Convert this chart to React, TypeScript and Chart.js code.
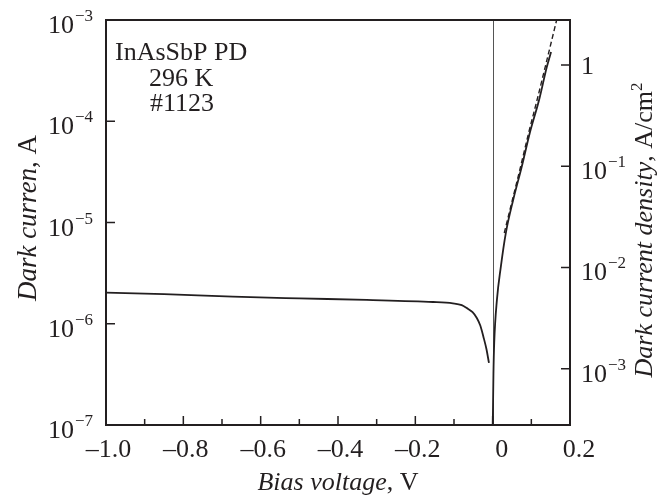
import { useEffect, useRef } from "react";
import { Chart, registerables } from "chart.js";

Chart.register(...registerables);

// ---- data ----
const reverseV = [-1.0, -0.85, -0.672, -0.5, -0.326, -0.154, -0.103, -0.08, -0.067, -0.052, -0.041, -0.032, -0.024, -0.016, -0.0096];
const reverseI = [2.03e-6, 1.96e-6, 1.85e-6, 1.78e-6, 1.72e-6, 1.64e-6, 1.59e-6, 1.53e-6, 1.43e-6, 1.3e-6, 1.14e-6, 9.6e-7, 7.45e-7, 5.6e-7, 4.1e-7];

const forwardV = [0.0003, 0.002, 0.004, 0.011, 0.021, 0.034, 0.053, 0.075, 0.096, 0.12, 0.14, 0.151];
const forwardI = [1e-7, 3.2e-7, 6.45e-7, 1.72e-6, 3.63e-6, 7.87e-6, 1.67e-5, 3.53e-5, 7.66e-5, 1.62e-4, 3.43e-4, 4.83e-4];

const fitV = [0.03, 0.051, 0.072, 0.093, 0.1148, 0.1358, 0.1655];
const fitI = [7.87e-6, 1.67e-5, 3.53e-5, 7.66e-5, 1.62e-4, 3.43e-4, 1e-3];

const X_MIN = -1.0;
const X_MAX = 0.2;
const Y_MIN = 1e-7;
const Y_MAX = 1e-3;
const AREA_FACTOR = 2782; // (A/cm^2) per A

const xMajorTicks = [-1.0, -0.8, -0.6, -0.4, -0.2, 0, 0.2];
const xMinorTicks = [-0.9, -0.7, -0.5, -0.3, -0.1, 0.1];
const xTickLabels = ["\u20131.0", "\u20130.8", "\u20130.6", "\u20130.4", "\u20130.2", "0", "0.2"];

const yLeftTicks = [1e-3, 1e-4, 1e-5, 1e-6, 1e-7];
const yLeftExps = ["\u22123", "\u22124", "\u22125", "\u22126", "\u22127"];

const yRightTicks = [1, 0.1, 0.01, 0.001];
const yRightExps = ["", "\u22121", "\u22122", "\u22123"];

const annotationLines = ["InAsSbP PD", "296 K", "#1123"];

const FONT = "'Liberation Serif', 'DejaVu Serif', serif";
const INK = "#231f20";

const toXY = (xs: number[], ys: number[]) => xs.map((x, i) => ({ x, y: ys[i] }));

const overlay = {
  id: "overlay",
  beforeDatasetsDraw(chart: any) {
    const { ctx, chartArea, scales } = chart;
    const x0 = Math.round(scales.x.getPixelForValue(0)) + 0.5;
    ctx.save();
    ctx.strokeStyle = "#555";
    ctx.lineWidth = 1;
    ctx.beginPath();
    ctx.moveTo(x0, chartArea.top);
    ctx.lineTo(x0, chartArea.bottom);
    ctx.stroke();
    ctx.restore();
  },
  afterDatasetsDraw(chart: any) {
    const { ctx, chartArea, scales } = chart;
    const { left, right, top, bottom } = chartArea;
    ctx.save();
    // frame
    ctx.strokeStyle = INK;
    ctx.lineWidth = 2;
    ctx.strokeRect(left, top, right - left, bottom - top);

    // ticks
    ctx.lineWidth = 1.5;
    ctx.beginPath();
    xMajorTicks.forEach((v) => {
      if (v === X_MIN || v === X_MAX) return;
      const px = scales.x.getPixelForValue(v);
      ctx.moveTo(px, bottom);
      ctx.lineTo(px, bottom - 9);
    });
    xMinorTicks.forEach((v) => {
      const px = scales.x.getPixelForValue(v);
      ctx.moveTo(px, bottom);
      ctx.lineTo(px, bottom - 6);
    });
    yLeftTicks.forEach((v) => {
      if (v === Y_MIN || v === Y_MAX) return;
      const py = scales.y.getPixelForValue(v);
      ctx.moveTo(left, py);
      ctx.lineTo(left + 9, py);
    });
    yRightTicks.forEach((v) => {
      const py = scales.y2.getPixelForValue(v);
      ctx.moveTo(right, py);
      ctx.lineTo(right - 9, py);
    });
    ctx.stroke();

    ctx.fillStyle = INK;
    ctx.textBaseline = "alphabetic";

    // x tick labels (numeric part centred a little right of the tick)
    ctx.font = `26px ${FONT}`;
    ctx.textAlign = "left";
    xMajorTicks.forEach((v, i) => {
      const px = scales.x.getPixelForValue(v);
      const txt = xTickLabels[i];
      const neg = txt.startsWith("\u2013");
      const num = neg ? txt.slice(1) : txt;
      const wNum = ctx.measureText(num).width;
      const wDash = neg ? ctx.measureText("\u2013").width : 0;
      const start = px + 9 - wNum / 2 - wDash;
      ctx.fillText(txt, start, bottom + 32);
    });

    // left y tick labels
    yLeftTicks.forEach((v, i) => {
      const py = scales.y.getPixelForValue(v);
      ctx.font = `17px ${FONT}`;
      ctx.textAlign = "right";
      const e = yLeftExps[i];
      const we = ctx.measureText(e).width;
      ctx.fillText(e, left - 13, py + 1);
      ctx.font = `26px ${FONT}`;
      ctx.fillText("10", left - 13 - we - 1, py + 13);
    });

    // right y tick labels
    yRightTicks.forEach((v, i) => {
      const py = scales.y2.getPixelForValue(v);
      const e = yRightExps[i];
      ctx.textAlign = "left";
      ctx.font = `26px ${FONT}`;
      if (!e) {
        ctx.fillText("1", right + 11, py + 9);
        return;
      }
      const w10 = ctx.measureText("10").width;
      ctx.fillText("10", right + 11, py + 13);
      ctx.font = `17px ${FONT}`;
      ctx.fillText(e, right + 11 + w10 + 1, py + 1);
    });

    // annotation
    ctx.font = `26px ${FONT}`;
    ctx.textAlign = "left";
    ctx.fillText(annotationLines[0], left + 9, top + 40);
    ctx.fillText(annotationLines[1], left + 43, top + 66);
    ctx.fillText(annotationLines[2], left + 44, top + 91);

    // axis titles
    const drawParts = (parts: { t: string; f: string; dy?: number }[], cx: number, baseY: number) => {
      let total = 0;
      parts.forEach((p) => {
        ctx.font = p.f;
        total += ctx.measureText(p.t).width;
      });
      let x = cx - total / 2;
      ctx.textAlign = "left";
      parts.forEach((p) => {
        ctx.font = p.f;
        ctx.fillText(p.t, x, baseY + (p.dy || 0));
        x += ctx.measureText(p.t).width;
      });
    };

    // bottom
    drawParts(
      [
        { t: "Bias voltage", f: `italic 26px ${FONT}` },
        { t: ", V", f: `26px ${FONT}` },
      ],
      (left + right) / 2,
      490
    );

    // left
    ctx.save();
    ctx.translate(36, 218);
    ctx.rotate(-Math.PI / 2);
    drawParts(
      [
        { t: "Dark curren", f: `italic 27px ${FONT}` },
        { t: ", A", f: `27px ${FONT}` },
      ],
      0,
      0
    );
    ctx.restore();

    // right
    ctx.save();
    ctx.translate(652, 230);
    ctx.rotate(-Math.PI / 2);
    drawParts(
      [
        { t: "Dark current density", f: `italic 26px ${FONT}` },
        { t: ", A/cm", f: `26px ${FONT}` },
        { t: "2", f: `17px ${FONT}`, dy: -10 },
      ],
      0,
      0
    );
    ctx.restore();

    ctx.restore();
  },
};

export default function App() {
  const ref = useRef<HTMLCanvasElement | null>(null);

  useEffect(() => {
    document.body.style.margin = "0";
    if (!ref.current) return;
    const chart = new Chart(ref.current, {
      type: "line",
      data: {
        datasets: [
          {
            data: toXY(reverseV, reverseI),
            borderColor: INK,
            borderWidth: 1.8,
            pointRadius: 0,
            cubicInterpolationMode: "monotone",
            yAxisID: "y",
          },
          {
            data: toXY(forwardV, forwardI),
            borderColor: INK,
            borderWidth: 1.8,
            pointRadius: 0,
            cubicInterpolationMode: "monotone",
            yAxisID: "y",
          },
          {
            data: toXY(fitV, fitI),
            borderColor: INK,
            borderWidth: 1.4,
            borderDash: [5, 3],
            pointRadius: 0,
            cubicInterpolationMode: "monotone",
            yAxisID: "y",
          },
        ],
      },
      options: {
        animation: false,
        responsive: false,
        devicePixelRatio: 1,
        layout: { padding: { left: 106, right: 97, top: 20, bottom: 72 } },
        plugins: { legend: { display: false }, tooltip: { enabled: false } },
        scales: {
          x: { type: "linear", min: X_MIN, max: X_MAX, display: false },
          y: { type: "logarithmic", min: Y_MIN, max: Y_MAX, display: false },
          y2: {
            type: "logarithmic",
            position: "right",
            min: Y_MIN * AREA_FACTOR,
            max: Y_MAX * AREA_FACTOR,
            display: false,
          },
        },
      },
      plugins: [overlay],
    });
    return () => chart.destroy();
  }, []);

  return <canvas ref={ref} width={667} height={497} style={{ display: "block" }} />;
}
